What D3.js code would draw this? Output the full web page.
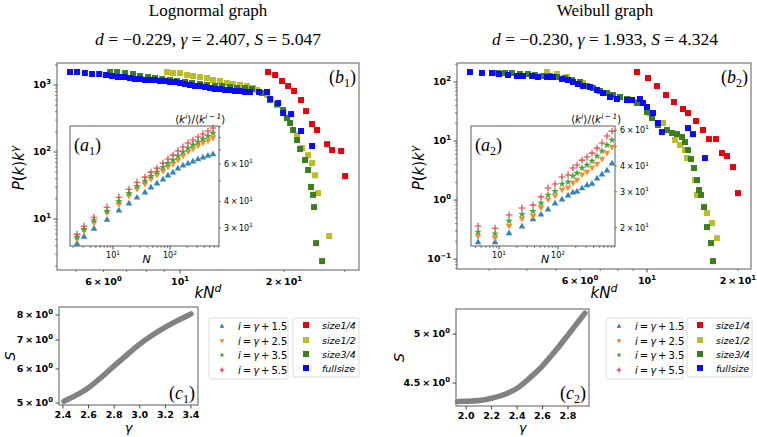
<!DOCTYPE html>
<html><head><meta charset="utf-8">
<script src="https://cdn.jsdelivr.net/npm/d3@7"></script>
<style>body{margin:0;background:#fff}svg{display:block}</style>
</head><body>
<svg id="c" width="757" height="437"></svg>
<script>
// ================= DATA =================
// (b1) Lognormal: P(k)k^gamma vs kN^d
const b1RedX = [17.99,18.86,19.75,20.56,21.40,22.42,23.18,24.13,24.95,26.68,27.58,29.29,30.08];
const b1RedY = [1563,1409,1148,966,814,597,409,262,213,131,107,103.5,43.8];
const b1YelX = [9.17,9.54,10.0,10.48,10.91,11.43,11.97,12.46,13.06,13.68,14.24,14.92,15.64,16.28,16.72,17.87,19.11,20.42,21.83,22.57,23.50,24.13,24.61,25.12,27.04];
const b1YelY = [1563,1510,1510,1409,1362,1316,1271,1188,1148,1071,1035,1000,966,902,842,709,502,321,179,115,90,68.5,45,24.4,5.57];
const b1GrnX = [6.27,6.57,6.93,7.31,7.66,8.08,8.46,8.87,9.35,9.80,10.34,10.83,11.43,11.97,12.63,13.24,13.96,14.63,15.43,16.17,17.29,18.24,19.11,19.89,20.42,20.84,21.26,21.83,22.27,23.03,23.50,23.97,24.29,24.45,24.78,25.80];
const b1GrnY = [1563,1563,1510,1459,1362,1316,1271,1229,1188,1148,1109,1071,1035,1000,966,966,934,902,902,872,760,597,520,423,321,271,213,151,111,76,54,30.1,23,15.1,4.38,2.36];
const b1BluX = [4.80,5.03,5.30,5.56,5.83,6.10,6.35,6.61,6.88,7.16,7.41,7.66,7.92,8.18,8.46,8.75,9.05,9.35,9.67,10.0,10.34,10.69,11.05,11.43,11.81,12.22,12.63,13.06,13.50,13.96,14.43,14.92,15.43,15.95,16.94,17.87,18.24,19.24,19.89,20.98,22.42,24.13];
const b1BluY = [1563,1563,1510,1459,1459,1409,1362,1316,1316,1271,1229,1229,1188,1188,1188,1148,1148,1109,1109,1071,1035,1000,966,966,934,902,872,872,842,842,814,814,787,787,787,787,618,538,382,369,206,123];

// (a1) inset: <k^i>/<k^(i-1)> vs N
const a1N   = [2.34,3.10,4.64,7.85,12.7,19.1,26.4,36.4,46.4,59.2,75.4,92.2,113,138,169,207,253,310,379,464,568];
const a1I15 = [25.4,27.4,29.9,33.0,36.4,39.3,41.9,44.3,46.8,48.8,51.0,53.2,55.0,57.4,59.3,60.6,62.0,63.4,64.7,65.9,67.0];
const a1I25 = [26.6,29.0,31.6,35.3,38.8,42.4,45.7,48.3,51.0,53.2,55.6,58.0,60.0,62.6,65.5,68.4,70.7,73.0,75.4,77.0,79.6];
const a1I35 = [27.2,29.6,32.6,36.0,40.1,43.7,47.2,49.9,52.6,55.0,58.0,60.6,62.6,65.5,68.4,71.4,73.7,76.2,78.7,81.2,83.9];
const a1I55 = [28.1,30.6,33.7,37.6,41.9,45.7,49.3,52.1,55.0,57.4,60.6,63.4,66.1,69.1,72.2,75.4,77.8,80.4,83.1,85.8,88.7];

// (b2) Weibull
const b2RedX = [9.267,10.08,10.79,11.56,12.28,13.16,13.67,14.53,15.33,16.04,16.92,17.71,18.41,19.27,20.01];
const b2RedY = [147.7,116.9,85.5,60.2,45.8,34.9,29.8,21.8,15.4,10.8,10.8,6.26,5.57,3.62,1.31];
const b2YelX = [4.667,5.035,5.434,6.140,6.626,7.151,7.716,8.139,8.652,9.267,10.23,11.30,12.38,12.86,13.36,13.57,14.42,14.64,15.80,16.42,17.05];
const b2YelY = [147.7,136.7,121.6,96.2,79.1,65.1,57.9,55.7,51.5,45.8,29.8,20.2,10.4,8.55,7.04,5.15,2.18,1.22,0.602,0.408,0.227];
const b2GrnX = [3.211,3.387,3.573,3.797,4.036,4.257,4.525,4.772,5.035,5.351,5.645,6.000,6.329,6.626,6.989,7.371,7.716,8.139,8.587,8.920,9.267,10.0,10.39,10.87,11.65,12.10,12.57,13.06,13.36,13.67,13.99,14.31,14.64,14.87,15.10,15.45,15.80,16.29,16.54];
const b2GrnY = [142.1,142.1,142.1,136.7,136.7,131.4,126.4,126.4,121.6,116.9,108.1,100,85.5,79.1,70.4,65.1,60.2,55.7,51.5,49.5,44.1,31.0,24.5,18.7,15.4,13.7,13.1,11.7,9.6,7.04,4.95,3.49,2.18,1.48,1.22,0.761,0.349,0.187,0.0925];
const b2BluX = [2.594,2.842,3.068,3.236,3.465,3.712,3.886,4.162,4.357,4.667,4.884,5.231,5.476,5.689,5.910,6.140,6.476,6.831,7.151,7.542,7.954,8.587,8.920,9.480,9.700,10.0,10.47,10.87,11.21,13.67,14.20,15.56];
const b2BluY = [147.7,142.1,142.1,136.7,131.4,126.4,126.4,126.4,121.6,121.6,121.6,112.4,108.1,100,92.5,85.5,82.3,73.2,65.1,55.7,51.5,49.5,49.5,51.5,44.1,37.7,29.8,20.2,14.2,16.6,13.1,5.15];

// (a2) inset
const a2N   = [4.41,8.56,14.8,24.5,37.7,51.5,67.7,89.0,117,148,179,210,255,310,377,458,557,677,823];
const a2I15 = [17.1,17.1,18.9,20.4,22.1,23.3,24.7,26.4,27.6,28.9,29.9,30.2,31.3,32.4,33.0,35.0,36.6,38.3,41.4];
const a2I25 = [18.2,17.8,20.4,22.1,22.8,25.0,27.4,28.6,30.6,31.3,33.0,34.2,36.2,37.4,39.2,40.9,43.3,46.3,49.5];
const a2I35 = [19.1,18.7,21.6,23.3,24.1,26.4,28.9,30.2,32.7,33.5,35.8,37.0,39.2,40.5,42.4,44.8,47.4,50.7,53.6];
const a2I55 = [20.4,19.9,23.1,25.0,25.8,28.3,31.3,32.7,35.4,36.2,39.2,40.5,42.8,44.3,46.3,49.0,51.9,56.1,59.3];

// (c1), (c2): S vs gamma
const c1Gamma = [2.407,2.5,2.6,2.7,2.8,2.9,3.0,3.1,3.2,3.3,3.4];
const c1S     = [5.047,5.21,5.43,5.74,6.10,6.47,6.85,7.19,7.50,7.78,8.05];
const c2Gamma = [1.933,2.0,2.1,2.2,2.3,2.4,2.5,2.6,2.7,2.8,2.9,2.933];
const c2S     = [4.324,4.326,4.333,4.355,4.39,4.45,4.55,4.67,4.82,4.99,5.17,5.23];

// tick labels
const mainXTickVals = [6,10,20];
const mainXTickLabels = ["6 × 10^0","10^1","2 × 10^1"];
const b1YTickVals = [10,100,1000];
const b1YTickLabels = ["10^1","10^2","10^3"];
const b2YTickVals = [0.1,1,10,100];
const b2YTickLabels = ["10^−1","10^0","10^1","10^2"];
const insetXTickVals = [10,100];
const insetXTickLabels = ["10^1","10^2"];
const a1YTickVals = [30,40,60];
const a1YTickLabels = ["3 × 10^1","4 × 10^1","6 × 10^1"];
const a2YTickVals = [20,30,40,60];
const a2YTickLabels = ["2 × 10^1","3 × 10^1","4 × 10^1","6 × 10^1"];
const c1XTickVals = [2.4,2.6,2.8,3.0,3.2,3.4];
const c1YTickVals = [5,6,7,8];
const c1YTickLabels = ["5 × 10^0","6 × 10^0","7 × 10^0","8 × 10^0"];
const c2XTickVals = [2.0,2.2,2.4,2.6,2.8];
const c2YTickVals = [4.5,5];
const c2YTickLabels = ["4.5 × 10^0","5 × 10^0"];

const markerLabels = ["i = γ + 1.5","i = γ + 2.5","i = γ + 3.5","i = γ + 5.5"];
const sizeLabels = ["size1/4","size1/2","size3/4","fullsize"];

// ================= DRAWING =================
const svg = d3.select("#c");
const FRAME = "#6a6a6a", TICKC = "#333";
const SQ = {red:"#e8000b", yel:"#bcbd22", grn:"#3c7d1e", blu:"#0a0aff"};
const TAB = {blue:"#1f77b4", orange:"#ff7f0e", green:"#2ca02c", red:"#d62728"};

function supText(g, x, y, str, o) {
  const fs = o.fs || 9;
  const t = g.append("text").attr("x", x).attr("y", y)
    .attr("text-anchor", o.anchor || "middle")
    .attr("font-family", "DejaVu Sans").attr("font-size", fs)
    .attr("font-weight", o.bold ? "bold" : "normal").attr("fill", "#000");
  const parts = str.split("^");
  t.append("tspan").text(parts[0].replace(/ × /g, "\u2009×\u2009"));
  if (parts.length > 1) t.append("tspan").attr("font-size", fs * 0.72).attr("dy", -fs * 0.42).text(parts[1]);
  return t;
}
function logTicks(domain) {
  const out = [];
  const lo = Math.floor(Math.log10(domain[0])), hi = Math.ceil(Math.log10(domain[1]));
  for (let e = lo; e <= hi; e++) for (let m = 1; m < 10; m++) {
    const v = m * Math.pow(10, e);
    if (v >= domain[0] && v <= domain[1]) out.push({v, major: m === 1});
  }
  return out;
}
function axisBottom(g, sc, y, ticks, labVals, labTexts, o) {
  ticks.forEach(t => g.append("line").attr("x1", sc(t.v)).attr("x2", sc(t.v))
    .attr("y1", y).attr("y2", y + (t.major ? 3.5 : 2)).attr("stroke", TICKC).attr("stroke-width", t.major ? 0.9 : 0.6));
  labVals.forEach((v, i) => supText(g, sc(v), y + o.dy, labTexts[i], o));
}
function axisLeft(g, sc, x, ticks, labVals, labTexts, o) {
  ticks.forEach(t => g.append("line").attr("y1", sc(t.v)).attr("y2", sc(t.v))
    .attr("x1", x).attr("x2", x - (t.major ? 3.5 : 2)).attr("stroke", TICKC).attr("stroke-width", t.major ? 0.9 : 0.6));
  labVals.forEach((v, i) => supText(g, x - 6, sc(v) + o.fs * 0.35, labTexts[i], Object.assign({anchor: "end"}, o)));
}
function axisRight(g, sc, x, ticks, labVals, labTexts, o) {
  ticks.forEach(t => g.append("line").attr("y1", sc(t.v)).attr("y2", sc(t.v))
    .attr("x1", x).attr("x2", x + (t.major ? 3.5 : 2)).attr("stroke", TICKC).attr("stroke-width", t.major ? 0.9 : 0.6));
  labVals.forEach((v, i) => supText(g, x + 5, sc(v) + o.fs * 0.35, labTexts[i], Object.assign({anchor: "start"}, o)));
}
function frame(g, x0, y0, x1, y1, fill) {
  g.append("rect").attr("x", x0).attr("y", y0).attr("width", x1 - x0).attr("height", y1 - y0)
    .attr("fill", fill || "none").attr("stroke", FRAME).attr("stroke-width", 1.1);
}
function squares(g, xs, ys, sx, sy, color) {
  g.selectAll(null).data(xs.map((x, i) => [x, ys[i]])).enter().append("rect")
    .attr("x", d => sx(d[0]) - 3).attr("y", d => sy(d[1]) - 3).attr("width", 6).attr("height", 6)
    .attr("fill", color);
}
function marker(g, type, x, y, s) {
  s = s || 1;
  if (type === "up") g.append("path").attr("d", d3.symbol(d3.symbolTriangle, 19 * s * s)()).attr("transform", `translate(${x},${y + 0.5})`).attr("fill", TAB.blue);
  else if (type === "down") g.append("path").attr("d", d3.symbol(d3.symbolTriangle, 19 * s * s)()).attr("transform", `translate(${x},${y - 0.5}) rotate(180)`).attr("fill", TAB.orange);
  else if (type === "star") g.append("path").attr("d", d3.symbol(d3.symbolStar, 18 * s * s)()).attr("transform", `translate(${x},${y})`).attr("fill", TAB.green);
  else g.append("path").attr("d", `M${x - 3.4 * s},${y}H${x + 3.4 * s}M${x},${y - 3.4 * s}V${y + 3.4 * s}`).attr("stroke", TAB.red).attr("stroke-width", 1.1);
}
function titleBlock(cx, name, d, gm, S) {
  svg.append("text").attr("x", cx).attr("y", 16).attr("text-anchor", "middle")
    .attr("font-family", "Liberation Serif").attr("font-size", 17).text(name);
  const t = svg.append("text").attr("x", cx).attr("y", 45).attr("text-anchor", "middle")
    .attr("font-family", "Liberation Serif").attr("font-size", 17.5);
  t.append("tspan").attr("font-style", "italic").text("d");
  t.append("tspan").text(" = " + d + ", ");
  t.append("tspan").attr("font-style", "italic").text("γ");
  t.append("tspan").text(" = " + gm + ", ");
  t.append("tspan").attr("font-style", "italic").text("S");
  t.append("tspan").text(" = " + S);
}
function panelLabel(g, x, y, letter, idx, anchor) {
  const t = g.append("text").attr("x", x).attr("y", y).attr("text-anchor", anchor)
    .attr("font-family", "Liberation Serif").attr("font-size", 18);
  t.append("tspan").text("(");
  t.append("tspan").attr("font-style", "italic").text(letter);
  t.append("tspan").attr("font-size", 12).attr("dy", 4).text(idx);
  t.append("tspan").attr("dy", -4).text(")");
}
function pkLabel(x, y) {
  const t = svg.append("text").attr("transform", `translate(${x},${y}) rotate(-90)`).attr("text-anchor", "middle")
    .attr("font-family", "DejaVu Sans").attr("font-size", 15);
  t.append("tspan").attr("font-style", "italic").text("P");
  t.append("tspan").text("(");
  t.append("tspan").attr("font-style", "italic").text("k");
  t.append("tspan").text(")");
  t.append("tspan").attr("font-style", "italic").text("k");
  t.append("tspan").attr("font-style", "italic").attr("font-size", 11).attr("dy", -6).text("γ");
}
function kNdLabel(x, y) {
  const t = svg.append("text").attr("x", x).attr("y", y).attr("text-anchor", "middle")
    .attr("font-family", "DejaVu Sans").attr("font-size", 15).attr("font-style", "italic");
  t.append("tspan").text("kN");
  t.append("tspan").attr("font-size", 11).attr("dy", -6).text("d");
}
function ratioLabel(x, y) {
  const t = svg.append("text").attr("x", x).attr("y", y).attr("text-anchor", "start")
    .attr("font-family", "DejaVu Sans").attr("font-size", 10.5);
  t.append("tspan").text("⟨");
  t.append("tspan").attr("font-style", "italic").text("k");
  t.append("tspan").attr("font-style", "italic").attr("font-size", 7.5).attr("dy", -4).text("i");
  t.append("tspan").attr("dy", 4).text("⟩/⟨");
  t.append("tspan").attr("font-style", "italic").text("k");
  t.append("tspan").attr("font-style", "italic").attr("font-size", 7.5).attr("dy", -4).text("i\u2009−\u20091");
  t.append("tspan").attr("dy", 4).text("⟩");
}

function mainPanel(P) {
  const g = svg.append("g");
  const sx = d3.scaleLog().domain(P.xd).range([P.x0, P.x1]);
  const sy = d3.scaleLog().domain(P.yd).range([P.y1, P.y0]);
  frame(g, P.x0, P.y0, P.x1, P.y1, "#fff");
  const dg = g.append("g");
  squares(dg, P.red[0], P.red[1], sx, sy, SQ.red);
  squares(dg, P.yel[0], P.yel[1], sx, sy, SQ.yel);
  squares(dg, P.grn[0], P.grn[1], sx, sy, SQ.grn);
  squares(dg, P.blu[0], P.blu[1], sx, sy, SQ.blu);
  axisBottom(g, sx, P.y1, logTicks(P.xd), mainXTickVals, mainXTickLabels, {fs: 9.5, bold: true, dy: 15});
  axisLeft(g, sy, P.x0, logTicks(P.yd), P.yTickVals, P.yTickLabels, {fs: 9.5, bold: true});
  panelLabel(g, P.x1 - 3, 83, "b", P.idx, "end");

  // inset
  const I = P.inset;
  const ix = d3.scaleLog().domain(I.xd).range([I.x0, I.x1]);
  const iy = d3.scaleLog().domain(I.yd).range([I.y1, I.y0]);
  frame(g, I.x0, I.y0, I.x1, I.y1, "#fff");
  const ig = g.append("g");
  I.series.forEach((s, k) => {
    const type = ["up", "down", "star", "plus"][k];
    I.n.forEach((n, i) => marker(ig, type, ix(n), iy(s[i]), 1));
  });
  ig.attr("opacity", 0.9);
  axisBottom(g, ix, I.y1, logTicks(I.xd), insetXTickVals, insetXTickLabels, {fs: 8, dy: 12});
  axisRight(g, iy, I.x1, logTicks(I.yd), I.yTickVals, I.yTickLabels, {fs: 8});
  panelLabel(g, I.x0 + 4, 151, "a", P.idx, "start");
  g.append("text").attr("x", (I.x0 + I.x1) / 2 + 2).attr("y", 263).attr("text-anchor", "middle")
    .attr("font-family", "DejaVu Sans").attr("font-size", 11).attr("font-style", "italic").text("N");
  ratioLabel(I.x1 - 44, 123);
}

function cPanel(P) {
  const g = svg.append("g");
  const sx = d3.scaleLinear().domain(P.xd).range([P.x0, P.x1]);
  const sy = d3.scaleLog().domain(P.yd).range([P.y1, P.y0]);
  frame(g, P.x0, P.y0, P.x1, P.y1, "#fff");
  g.append("path").datum(P.gamma.map((v, i) => [v, P.S[i]]))
    .attr("d", d3.line().x(d => sx(d[0])).y(d => sy(d[1])).curve(d3.curveMonotoneX))
    .attr("fill", "none").attr("stroke", "#828282").attr("stroke-width", 5.5).attr("stroke-linecap", "round");
  axisBottom(g, sx, P.y1, P.xTicks.map(v => ({v, major: true})), P.xTicks, P.xTicks.map(v => v.toFixed(1)), {fs: 9.5, bold: true, dy: 13});
  axisLeft(g, sy, P.x0, P.yTicks.map(v => ({v, major: true})), P.yTicks, P.yLabels, {fs: 9.5, bold: true});
  panelLabel(g, P.x1 - 3, 399, "c", P.idx, "end");
  g.append("text").attr("x", (P.x0 + P.x1) / 2).attr("y", 432).attr("text-anchor", "middle")
    .attr("font-family", "DejaVu Sans").attr("font-size", 13).attr("font-style", "italic").text("γ");
  g.append("text").attr("transform", `translate(${P.slx},${(P.y0 + P.y1) / 2}) rotate(-90)`).attr("text-anchor", "middle")
    .attr("font-family", "DejaVu Sans").attr("font-size", 14).attr("font-style", "italic").text("S");
}

function legends(x1, x2, w1, w2) {
  const g = svg.append("g");
  g.append("rect").attr("x", x1).attr("y", 318).attr("width", w1).attr("height", 61).attr("rx", 2)
    .attr("fill", "#fff").attr("stroke", "#d4d4d4").attr("stroke-width", 0.8);
  g.append("rect").attr("x", x2).attr("y", 318).attr("width", w2).attr("height", 59).attr("rx", 2)
    .attr("fill", "#fff").attr("stroke", "#d4d4d4").attr("stroke-width", 0.8);
  const rows = [326, 341, 355, 370];
  ["up", "down", "star", "plus"].forEach((t, i) => {
    marker(g, t, x1 + 13, rows[i], 0.7);
    const tx = g.append("text").attr("x", x1 + 29).attr("y", rows[i] + 3.5)
      .attr("font-family", "DejaVu Sans").attr("font-size", 10);
    const p = markerLabels[i].split(" ");
    tx.append("tspan").attr("font-style", "italic").text(p[0]);
    tx.append("tspan").text("\u2009=\u2009");
    tx.append("tspan").attr("font-style", "italic").text(p[2]);
    tx.append("tspan").text("\u2009+\u2009" + p[4]);
  });
  const rows2 = [325, 340, 354, 368];
  [SQ.red, SQ.yel, SQ.grn, SQ.blu].forEach((c, i) => {
    g.append("rect").attr("x", x2 + 10).attr("y", rows2[i] - 3).attr("width", 6).attr("height", 6).attr("fill", c);
    g.append("text").attr("x", x2 + 29).attr("y", rows2[i] + 3.5).attr("font-family", "DejaVu Sans")
      .attr("font-size", 9.5).attr("font-style", "italic").text(sizeLabels[i]);
  });
}

// ---- left column ----
titleBlock(208, "Lognormal graph", "−0.229", "2.407", "5.047");
mainPanel({
  x0: 57, x1: 359, y0: 63, y1: 270, xd: [4.4, 33], yd: [1.74, 2130], idx: "1",
  red: [b1RedX, b1RedY], yel: [b1YelX, b1YelY], grn: [b1GrnX, b1GrnY], blu: [b1BluX, b1BluY],
  yTickVals: b1YTickVals, yTickLabels: b1YTickLabels,
  inset: {x0: 70, x1: 219, y0: 126, y1: 246, xd: [1.76, 725], yd: [24.7, 90.6], n: a1N,
    series: [a1I15, a1I25, a1I35, a1I55], yTickVals: a1YTickVals, yTickLabels: a1YTickLabels}
});
pkLabel(24, 168);
kNdLabel(208, 298);
cPanel({x0: 59, x1: 198, y0: 307, y1: 405, xd: [2.369, 3.455], yd: [4.95, 8.35], gamma: c1Gamma, S: c1S,
  xTicks: c1XTickVals, yTicks: c1YTickVals, yLabels: c1YTickLabels, idx: "1", slx: 15});
legends(209, 293, 79, 66);

// ---- right column ----
titleBlock(605, "Weibull graph", "−0.230", "1.933", "4.324");
mainPanel({
  x0: 457, x1: 751, y0: 63, y1: 269, xd: [2.35, 22.1], yd: [0.068, 210], idx: "2",
  red: [b2RedX, b2RedY], yel: [b2YelX, b2YelY], grn: [b2GrnX, b2GrnY], blu: [b2BluX, b2BluY],
  yTickVals: b2YTickVals, yTickLabels: b2YTickLabels,
  inset: {x0: 471, x1: 615, y0: 126, y1: 246, xd: [3.35, 925], yd: [16.3, 62.8], n: a2N,
    series: [a2I15, a2I25, a2I35, a2I55], yTickVals: a2YTickVals, yTickLabels: a2YTickLabels}
});
pkLabel(424, 168);
kNdLabel(604, 298);
cPanel({x0: 456, x1: 589, y0: 309, y1: 406, xd: [1.92, 2.965], yd: [4.283, 5.277], gamma: c2Gamma, S: c2S,
  xTicks: c2XTickVals, yTicks: c2YTickVals, yLabels: c2YTickLabels, idx: "2", slx: 404});
legends(606, 687, 77, 65);
</script>
</body></html>
